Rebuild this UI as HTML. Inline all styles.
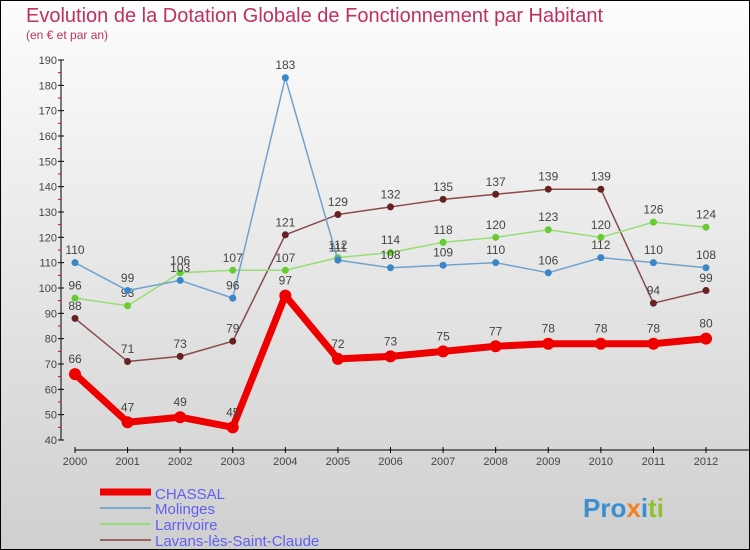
<!DOCTYPE html>
<html><head><meta charset="utf-8"><style>
body{margin:0;width:750px;height:550px;overflow:hidden;font-family:"Liberation Sans",sans-serif}
svg{display:block}
</style></head><body>
<svg width="750" height="550">
<defs><linearGradient id="bg" x1="0" y1="0" x2="0" y2="1"><stop offset="0" stop-color="#fdfdfd"/><stop offset="1" stop-color="#cfcfcf"/></linearGradient></defs>
<rect x="0.5" y="0.5" width="749" height="549" fill="url(#bg)" stroke="#000"/>
<text x="26" y="22" font-size="20" fill="#c03060">Evolution de la Dotation Globale de Fonctionnement par Habitant</text>
<text x="26" y="39" font-size="12" fill="#c03060">(en € et par an)</text>
<g id="axes"></g>
<g id="series"></g>
<g>
<line x1="100" y1="492" x2="151" y2="492" stroke="#ee0000" stroke-width="7"/>
<text x="155" y="499" font-size="15" fill="#6060f0">CHASSAL</text>
<line x1="100" y1="508" x2="151" y2="508" stroke="#7aa8cc" stroke-width="2"/>
<text x="155" y="514" font-size="15" fill="#6060f0">Molinges</text>
<line x1="100" y1="524" x2="151" y2="524" stroke="#99dd77" stroke-width="2"/>
<text x="155" y="530" font-size="15" fill="#6060f0">Larrivoire</text>
<line x1="100" y1="540" x2="151" y2="540" stroke="#996666" stroke-width="2"/>
<text x="155" y="546" font-size="15" fill="#6060f0">Lavans-lès-Saint-Claude</text>
</g>
<text x="583" y="517" font-size="26" font-weight="bold"><tspan fill="#3a8fd0">Pro</tspan><tspan fill="#f08020">x</tspan><tspan fill="#3a8fd0">i</tspan><tspan fill="#90c030">ti</tspan></text>
</svg>
<script>
const years=["2000","2001","2002","2003","2004","2005","2006","2007","2008","2009","2010","2011","2012"];
const yTicks=[40,50,60,70,80,90,100,110,120,130,140,150,160,170,180,190];
const chassal=[66,47,49,45,97,72,73,75,77,78,78,78,80];
const molinges=[110,99,103,96,183,111,108,109,110,106,112,110,108];
const larrivoire=[96,93,106,107,107,112,114,118,120,123,120,126,124];
const lavans=[88,71,73,79,121,129,132,135,137,139,139,94,99];
const NS="http://www.w3.org/2000/svg";
const X=i=>75+i*(706-75)/12;
const Y=v=>440-(v-40)*(380/150);
function mk(t,a,p){const e=document.createElementNS(NS,t);for(const k in a)e.setAttribute(k,a[k]);p.appendChild(e);return e;}
const ax=document.getElementById('axes');
const yl=mk('line',{x1:61,y1:Y(190),x2:61,y2:Y(40),stroke:'#000'},ax);


yTicks.forEach(v=>{
 mk('line',{x1:58,y1:Y(v),x2:64,y2:Y(v),stroke:'#000'},ax);
 if(v<190)mk('line',{x1:58,y1:Y(v+5),x2:61,y2:Y(v+5),stroke:'#e00'},ax);
 const t=mk('text',{x:57,y:Y(v)+4,'font-size':11,fill:'#444','text-anchor':'end'},ax);t.textContent=v;
 
 
});
const xl=mk('line',{x1:75,y1:450,x2:750,y2:450,stroke:'#000'},ax);


years.forEach((y,i)=>{
 mk('line',{x1:X(i),y1:447,x2:X(i),y2:453,stroke:'#000'},ax);
 const t=mk('text',{x:X(i),y:465,'font-size':11,fill:'#444','text-anchor':'middle'},ax);t.textContent=y;
 
 
});
const sg=document.getElementById('series');
function draw(d,col,dot,w,r,name){
 const g=mk('g',{},sg);
 
 
 mk('polyline',{points:d.map((v,i)=>X(i)+','+Y(v)).join(' '),fill:'none',stroke:col,'stroke-width':w,'stroke-linejoin':'round'},g);
 d.forEach((v,i)=>{
  const c=mk('circle',{cx:X(i),cy:Y(v),r:r,fill:dot},g);
  
  
  const t=mk('text',{x:X(i),y:Y(v)-(r+5),'font-size':12,fill:'#444','text-anchor':'middle'},g);t.textContent=v;
  
  
 });
}
draw(lavans,'#8a4a4a','#662222',1.5,3.5,'series-lavans');
draw(larrivoire,'#99dd77','#66cc33',1.5,3.5,'series-larrivoire');
draw(molinges,'#6fa3cf','#3a86c8',1.5,3.5,'series-molinges');
draw(chassal,'#ee0000','#ee0000',7,6,'series-chassal');
</script>
</body></html>
